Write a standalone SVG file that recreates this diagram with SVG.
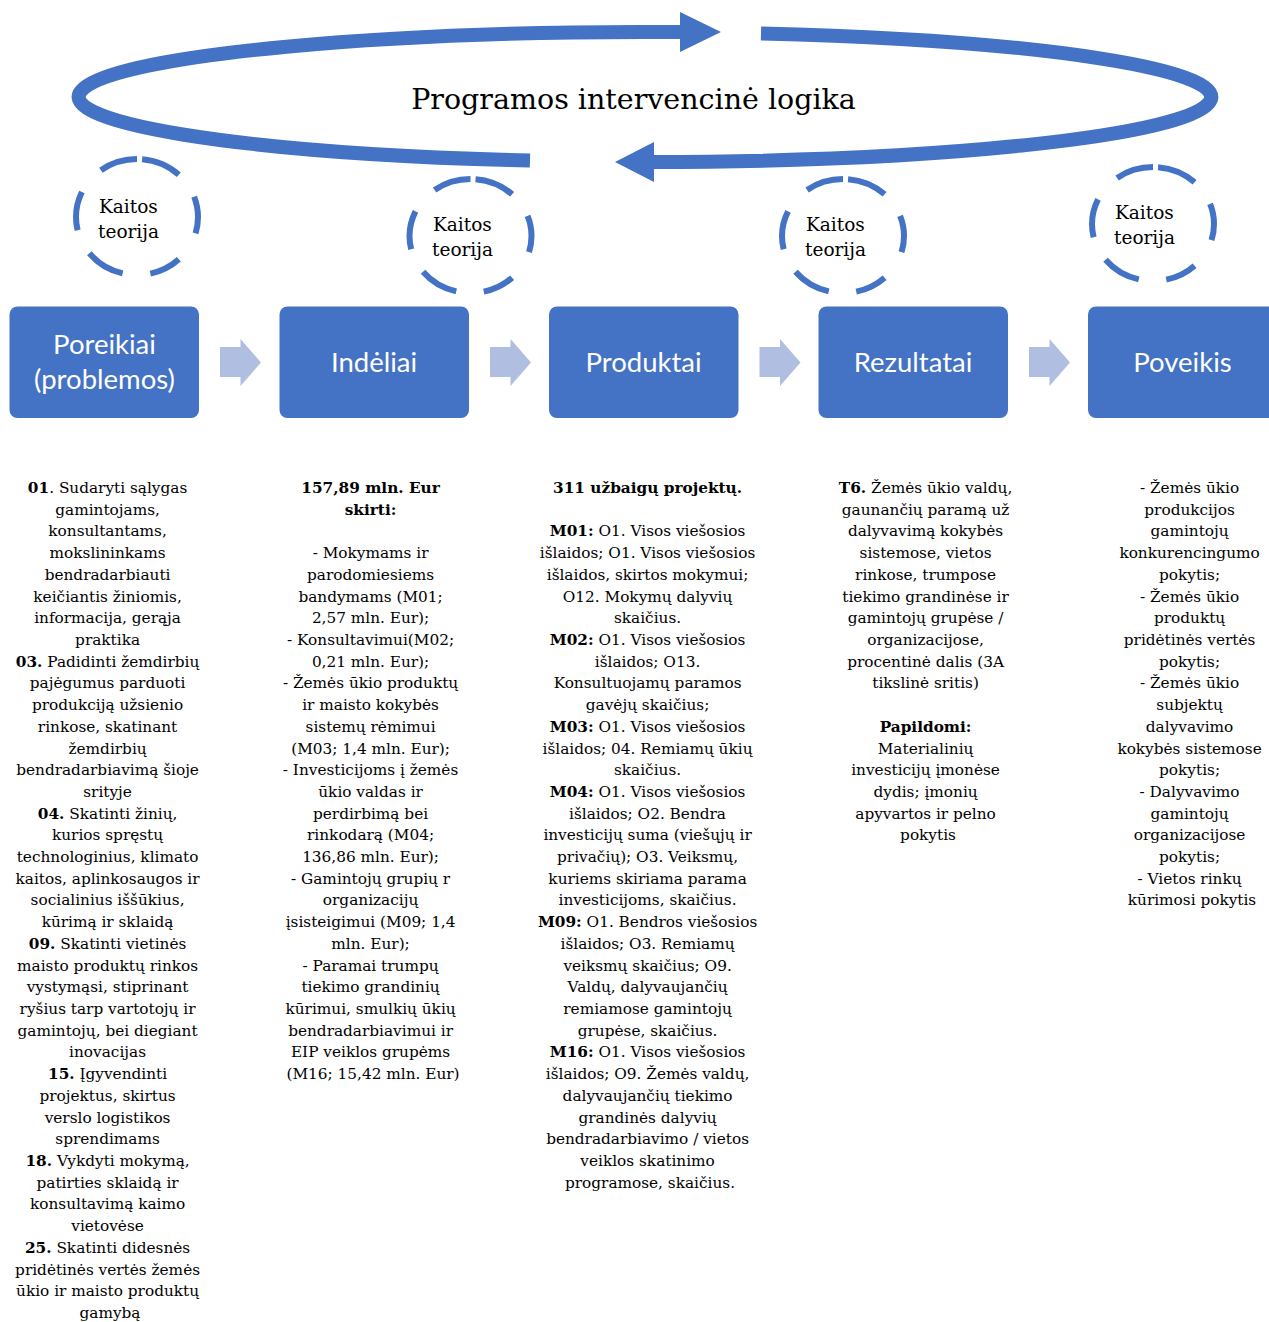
<svg xmlns="http://www.w3.org/2000/svg" width="1269" height="1322" viewBox="0 0 1269 1322">
<style>
.box{fill:#4472C4;}
.lbl{font-family:Lato,"Open Sans","Liberation Sans",sans-serif;font-size:27.5px;fill:#ffffff;text-anchor:middle;}
.tx{font-family:"DejaVu Serif","Liberation Serif",serif;font-size:15.3px;fill:#000000;text-anchor:middle;}
.b{font-weight:bold;}
.kt{font-family:"DejaVu Serif","Liberation Serif",serif;font-size:18.5px;fill:#000000;}
.title{font-family:"DejaVu Serif","Liberation Serif",serif;font-size:28.5px;fill:#000000;text-anchor:middle;}
.cyc{fill:none;stroke:#4472C4;stroke-width:14;}
.head{fill:#4472C4;}
.dash{fill:none;stroke:#4472C4;stroke-width:6;stroke-dasharray:0 5 39 26 36 30 31 27 38 25 38 28 37 0;}
.ba{fill:#B0BEE2;}
</style>
<rect width="1269" height="1322" fill="#ffffff"/>

<g id="connectors">
  <g id="cycle-arrow">
    <path class="cyc" d="M530,160.6 A567,65 0 0 1 682,32.1"/>
    <polygon class="head" points="680,12 721,32 680,52"/>
    <path class="cyc" d="M761,33.4 A567,65 0 0 1 652,162"/>
    <polygon class="head" points="654,142 615,162 654,182"/>
  </g>
  <polygon class="ba" points="220,347 240.5,347 240.5,339 261,362.5 240.5,386 240.5,377 220,377"/>
  <polygon class="ba" points="490,347 510.5,347 510.5,339 531,362.5 510.5,386 510.5,377 490,377"/>
  <polygon class="ba" points="759.5,347 780,347 780,339 800.5,362.5 780,386 780,377 759.5,377"/>
  <polygon class="ba" points="1029,347 1049.5,347 1049.5,339 1070,362.5 1049.5,386 1049.5,377 1029,377"/>
</g>

<g id="title">
  <text class="title" x="633.5" y="109">Programos intervencinė logika</text>
</g>

<g id="kaitos-1">
  <path class="dash" pathLength="360" d="M137,159 A61,58 0 0 1 137,275 A61,58 0 0 1 137,159"/>
  <text class="kt" x="99" y="213">Kaitos</text>
  <text class="kt" x="98" y="238">teorija</text>
</g>
<g id="kaitos-2">
  <path class="dash" pathLength="360" d="M470.5,179 A61,57 0 0 1 470.5,293 A61,57 0 0 1 470.5,179"/>
  <text class="kt" x="433" y="231">Kaitos</text>
  <text class="kt" x="432" y="256">teorija</text>
</g>
<g id="kaitos-3">
  <path class="dash" pathLength="360" d="M843,179 A61,57 0 0 1 843,293 A61,57 0 0 1 843,179"/>
  <text class="kt" x="806" y="231">Kaitos</text>
  <text class="kt" x="805" y="256">teorija</text>
</g>
<g id="kaitos-4">
  <path class="dash" pathLength="360" d="M1153,167 A61,57 0 0 1 1153,281 A61,57 0 0 1 1153,167"/>
  <text class="kt" x="1115" y="219">Kaitos</text>
  <text class="kt" x="1114" y="244">teorija</text>
</g>

<g id="node-poreikiai">
  <rect class="box" x="9.5" y="306.5" width="189.5" height="111.5" rx="8"/>
  <text class="lbl" x="104.5" y="354">Poreikiai</text>
  <text class="lbl" x="104.5" y="389">(problemos)</text>
</g>
<g id="node-indeliai">
  <rect class="box" x="279.5" y="306.5" width="189.5" height="111.5" rx="8"/>
  <text class="lbl" x="374" y="372">Indėliai</text>
</g>
<g id="node-produktai">
  <rect class="box" x="549" y="306.5" width="189.5" height="111.5" rx="8"/>
  <text class="lbl" x="643.5" y="372">Produktai</text>
</g>
<g id="node-rezultatai">
  <rect class="box" x="818.5" y="306.5" width="189.5" height="111.5" rx="8"/>
  <text class="lbl" x="913" y="372">Rezultatai</text>
</g>
<g id="node-poveikis">
  <rect class="box" x="1088" y="306.5" width="189.5" height="111.5" rx="8"/>
  <text class="lbl" x="1182.5" y="372">Poveikis</text>
</g>

<g id="text-poreikiai">
  <text class="tx">
    <tspan x="110" y="493"><tspan class="b">01</tspan>. Sudaryti sąlygas</tspan>
    <tspan x="110" dy="21.71">gamintojams,</tspan>
    <tspan x="110" dy="21.71">konsultantams,</tspan>
    <tspan x="110" dy="21.71">mokslininkams</tspan>
    <tspan x="110" dy="21.71">bendradarbiauti</tspan>
    <tspan x="110" dy="21.71">keičiantis žiniomis,</tspan>
    <tspan x="110" dy="21.71">informacija, gerąja</tspan>
    <tspan x="110" dy="21.71">praktika</tspan>
    <tspan x="110" dy="21.71"><tspan class="b">03.</tspan> Padidinti žemdirbių</tspan>
    <tspan x="110" dy="21.71">pajėgumus parduoti</tspan>
    <tspan x="110" dy="21.71">produkciją užsienio</tspan>
    <tspan x="110" dy="21.71">rinkose, skatinant</tspan>
    <tspan x="110" dy="21.71">žemdirbių</tspan>
    <tspan x="110" dy="21.71">bendradarbiavimą šioje</tspan>
    <tspan x="110" dy="21.71">srityje</tspan>
    <tspan x="110" dy="21.71"><tspan class="b">04.</tspan> Skatinti žinių,</tspan>
    <tspan x="110" dy="21.71">kurios spręstų</tspan>
    <tspan x="110" dy="21.71">technologinius, klimato</tspan>
    <tspan x="110" dy="21.71">kaitos, aplinkosaugos ir</tspan>
    <tspan x="110" dy="21.71">socialinius iššūkius,</tspan>
    <tspan x="110" dy="21.71">kūrimą ir sklaidą</tspan>
    <tspan x="110" dy="21.71"><tspan class="b">09.</tspan> Skatinti vietinės</tspan>
    <tspan x="110" dy="21.71">maisto produktų rinkos</tspan>
    <tspan x="110" dy="21.71">vystymąsi, stiprinant</tspan>
    <tspan x="110" dy="21.71">ryšius tarp vartotojų ir</tspan>
    <tspan x="110" dy="21.71">gamintojų, bei diegiant</tspan>
    <tspan x="110" dy="21.71">inovacijas</tspan>
    <tspan x="110" dy="21.71"><tspan class="b">15.</tspan> Įgyvendinti</tspan>
    <tspan x="110" dy="21.71">projektus, skirtus</tspan>
    <tspan x="110" dy="21.71">verslo logistikos</tspan>
    <tspan x="110" dy="21.71">sprendimams</tspan>
    <tspan x="110" dy="21.71"><tspan class="b">18.</tspan> Vykdyti mokymą,</tspan>
    <tspan x="110" dy="21.71">patirties sklaidą ir</tspan>
    <tspan x="110" dy="21.71">konsultavimą kaimo</tspan>
    <tspan x="110" dy="21.71">vietovėse</tspan>
    <tspan x="110" dy="21.71"><tspan class="b">25.</tspan> Skatinti didesnės</tspan>
    <tspan x="110" dy="21.71">pridėtinės vertės žemės</tspan>
    <tspan x="110" dy="21.71">ūkio ir maisto produktų</tspan>
    <tspan x="110" dy="21.71">gamybą</tspan>
  </text>
</g>

<g id="text-indeliai">
  <text class="tx">
    <tspan x="373" y="493" class="b">157,89 mln. Eur</tspan>
    <tspan x="373" dy="21.71" class="b">skirti:</tspan>
    <tspan x="373" dy="43.42">- Mokymams ir</tspan>
    <tspan x="373" dy="21.71">parodomiesiems</tspan>
    <tspan x="373" dy="21.71">bandymams (M01;</tspan>
    <tspan x="373" dy="21.71">2,57 mln. Eur);</tspan>
    <tspan x="373" dy="21.71">- Konsultavimui(M02;</tspan>
    <tspan x="373" dy="21.71">0,21 mln. Eur);</tspan>
    <tspan x="373" dy="21.71">- Žemės ūkio produktų</tspan>
    <tspan x="373" dy="21.71">ir maisto kokybės</tspan>
    <tspan x="373" dy="21.71">sistemų rėmimui</tspan>
    <tspan x="373" dy="21.71">(M03; 1,4 mln. Eur);</tspan>
    <tspan x="373" dy="21.71">- Investicijoms į žemės</tspan>
    <tspan x="373" dy="21.71">ūkio valdas ir</tspan>
    <tspan x="373" dy="21.71">perdirbimą bei</tspan>
    <tspan x="373" dy="21.71">rinkodarą (M04;</tspan>
    <tspan x="373" dy="21.71">136,86 mln. Eur);</tspan>
    <tspan x="373" dy="21.71">- Gamintojų grupių r</tspan>
    <tspan x="373" dy="21.71">organizacijų</tspan>
    <tspan x="373" dy="21.71">įsisteigimui (M09; 1,4</tspan>
    <tspan x="373" dy="21.71">mln. Eur);</tspan>
    <tspan x="373" dy="21.71">- Paramai trumpų</tspan>
    <tspan x="373" dy="21.71">tiekimo grandinių</tspan>
    <tspan x="373" dy="21.71">kūrimui, smulkių ūkių</tspan>
    <tspan x="373" dy="21.71">bendradarbiavimui ir</tspan>
    <tspan x="373" dy="21.71">EIP veiklos grupėms</tspan>
    <tspan x="373" dy="21.71">(M16; 15,42 mln. Eur)</tspan>
  </text>
</g>

<g id="text-produktai">
  <text class="tx">
    <tspan x="650" y="493" class="b">311 užbaigų projektų.</tspan>
    <tspan x="650" dy="43.42"><tspan class="b">M01:</tspan> O1. Visos viešosios</tspan>
    <tspan x="650" dy="21.71">išlaidos; O1. Visos viešosios</tspan>
    <tspan x="650" dy="21.71">išlaidos, skirtos mokymui;</tspan>
    <tspan x="650" dy="21.71">O12. Mokymų dalyvių</tspan>
    <tspan x="650" dy="21.71">skaičius.</tspan>
    <tspan x="650" dy="21.71"><tspan class="b">M02:</tspan> O1. Visos viešosios</tspan>
    <tspan x="650" dy="21.71">išlaidos; O13.</tspan>
    <tspan x="650" dy="21.71">Konsultuojamų paramos</tspan>
    <tspan x="650" dy="21.71">gavėjų skaičius;</tspan>
    <tspan x="650" dy="21.71"><tspan class="b">M03:</tspan> O1. Visos viešosios</tspan>
    <tspan x="650" dy="21.71">išlaidos; 04. Remiamų ūkių</tspan>
    <tspan x="650" dy="21.71">skaičius.</tspan>
    <tspan x="650" dy="21.71"><tspan class="b">M04:</tspan> O1. Visos viešosios</tspan>
    <tspan x="650" dy="21.71">išlaidos; O2. Bendra</tspan>
    <tspan x="650" dy="21.71">investicijų suma (viešųjų ir</tspan>
    <tspan x="650" dy="21.71">privačių); O3. Veiksmų,</tspan>
    <tspan x="650" dy="21.71">kuriems skiriama parama</tspan>
    <tspan x="650" dy="21.71">investicijoms, skaičius.</tspan>
    <tspan x="650" dy="21.71"><tspan class="b">M09:</tspan> O1. Bendros viešosios</tspan>
    <tspan x="650" dy="21.71">išlaidos; O3. Remiamų</tspan>
    <tspan x="650" dy="21.71">veiksmų skaičius; O9.</tspan>
    <tspan x="650" dy="21.71">Valdų, dalyvaujančių</tspan>
    <tspan x="650" dy="21.71">remiamose gamintojų</tspan>
    <tspan x="650" dy="21.71">grupėse, skaičius.</tspan>
    <tspan x="650" dy="21.71"><tspan class="b">M16:</tspan> O1. Visos viešosios</tspan>
    <tspan x="650" dy="21.71">išlaidos; O9. Žemės valdų,</tspan>
    <tspan x="650" dy="21.71">dalyvaujančių tiekimo</tspan>
    <tspan x="650" dy="21.71">grandinės dalyvių</tspan>
    <tspan x="650" dy="21.71">bendradarbiavimo / vietos</tspan>
    <tspan x="650" dy="21.71">veiklos skatinimo</tspan>
    <tspan x="650" dy="21.71">programose, skaičius.</tspan>
  </text>
</g>

<g id="text-rezultatai">
  <text class="tx">
    <tspan x="928" y="493"><tspan class="b">T6.</tspan> Žemės ūkio valdų,</tspan>
    <tspan x="928" dy="21.71">gaunančių paramą už</tspan>
    <tspan x="928" dy="21.71">dalyvavimą kokybės</tspan>
    <tspan x="928" dy="21.71">sistemose, vietos</tspan>
    <tspan x="928" dy="21.71">rinkose, trumpose</tspan>
    <tspan x="928" dy="21.71">tiekimo grandinėse ir</tspan>
    <tspan x="928" dy="21.71">gamintojų grupėse /</tspan>
    <tspan x="928" dy="21.71">organizacijose,</tspan>
    <tspan x="928" dy="21.71">procentinė dalis (3A</tspan>
    <tspan x="928" dy="21.71">tikslinė sritis)</tspan>
    <tspan x="928" dy="43.42" class="b">Papildomi:</tspan>
    <tspan x="928" dy="21.71">Materialinių</tspan>
    <tspan x="928" dy="21.71">investicijų įmonėse</tspan>
    <tspan x="928" dy="21.71">dydis; įmonių</tspan>
    <tspan x="928" dy="21.71">apyvartos ir pelno</tspan>
    <tspan x="928" dy="21.71">pokytis</tspan>
  </text>
</g>

<g id="text-poveikis">
  <text class="tx">
    <tspan x="1192" y="493">- Žemės ūkio</tspan>
    <tspan x="1192" dy="21.71">produkcijos</tspan>
    <tspan x="1192" dy="21.71">gamintojų</tspan>
    <tspan x="1192" dy="21.71">konkurencingumo</tspan>
    <tspan x="1192" dy="21.71">pokytis;</tspan>
    <tspan x="1192" dy="21.71">- Žemės ūkio</tspan>
    <tspan x="1192" dy="21.71">produktų</tspan>
    <tspan x="1192" dy="21.71">pridėtinės vertės</tspan>
    <tspan x="1192" dy="21.71">pokytis;</tspan>
    <tspan x="1192" dy="21.71">- Žemės ūkio</tspan>
    <tspan x="1192" dy="21.71">subjektų</tspan>
    <tspan x="1192" dy="21.71">dalyvavimo</tspan>
    <tspan x="1192" dy="21.71">kokybės sistemose</tspan>
    <tspan x="1192" dy="21.71">pokytis;</tspan>
    <tspan x="1192" dy="21.71">- Dalyvavimo</tspan>
    <tspan x="1192" dy="21.71">gamintojų</tspan>
    <tspan x="1192" dy="21.71">organizacijose</tspan>
    <tspan x="1192" dy="21.71">pokytis;</tspan>
    <tspan x="1192" dy="21.71">- Vietos rinkų</tspan>
    <tspan x="1192" dy="21.71">kūrimosi pokytis</tspan>
  </text>
</g>
</svg>
